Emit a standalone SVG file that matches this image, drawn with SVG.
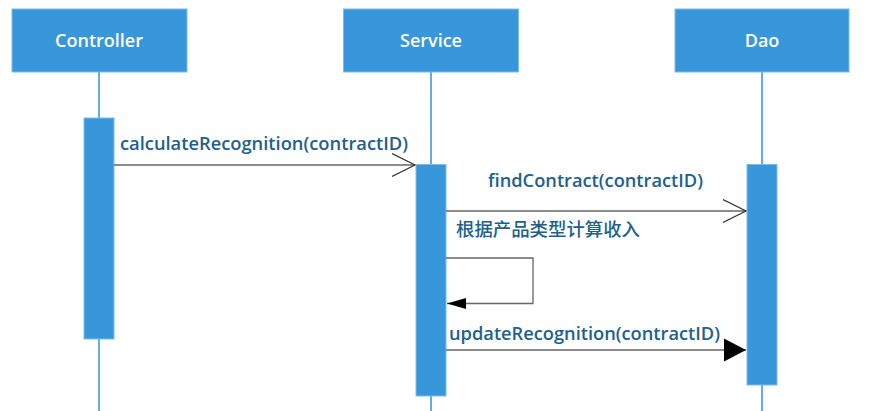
<svg xmlns="http://www.w3.org/2000/svg" width="870" height="411" viewBox="0 0 870 411">
<style>
.box{fill:#3797DA;stroke:#7DBBEA;stroke-width:1}
.bar{fill:#3797DA;stroke:#7DBBEA;stroke-width:1}
.life{stroke:#5FAEE6;stroke-width:2}
.title{font-family:"Open Sans","Liberation Sans",sans-serif;font-size:18px;font-weight:600;fill:#FFFFFF;text-anchor:middle}
.msg{font-family:"Open Sans","Liberation Sans","Noto Sans CJK SC",sans-serif;font-size:18px;font-weight:600;fill:#215F8E}
.cjk{font-family:"Noto Sans CJK SC",sans-serif;font-size:18px;font-weight:500;fill:#215F8E}
.line{stroke:#666666;stroke-width:1.3;fill:none}
</style>
<defs>
<marker id="open" markerWidth="26" markerHeight="26" refX="23" refY="12" orient="auto" markerUnits="userSpaceOnUse">
<path d="M0,0.5 L23,12 L0,23.5" fill="none" stroke="#333333" stroke-width="1.2"/>
</marker>
<marker id="fillbig" markerWidth="24" markerHeight="26" refX="22" refY="12" orient="auto" markerUnits="userSpaceOnUse">
<path d="M0,0.5 L22,12 L0,23.5 Z" fill="#000000"/>
</marker>
<marker id="fillsmall" markerWidth="20" markerHeight="14" refX="19" refY="6" orient="auto" markerUnits="userSpaceOnUse">
<path d="M0,0.5 L19,6 L0,11.5 Z" fill="#000000"/>
</marker>
</defs>

<g id="lifelines">
<line class="life" x1="99" y1="72" x2="99" y2="411"/>
<line class="life" x1="431" y1="72" x2="431" y2="411"/>
<line class="life" x1="762" y1="72" x2="762" y2="411"/>
</g>

<g id="controller">
<rect class="box" x="12" y="9" width="175" height="63"/>
<text class="title" x="99" y="47">Controller</text>
<rect class="bar" x="84" y="118" width="30" height="221"/>
</g>

<g id="service">
<rect class="box" x="343.5" y="9" width="175" height="63"/>
<text class="title" x="431" y="47">Service</text>
<rect class="bar" x="416" y="164.5" width="30" height="231.5"/>
</g>

<g id="dao">
<rect class="box" x="675" y="9" width="174" height="63"/>
<text class="title" x="762" y="47">Dao</text>
<rect class="bar" x="747" y="164.5" width="30" height="220.5"/>
</g>

<g id="connectors">
<line class="line" x1="114" y1="165" x2="415" y2="165" marker-end="url(#open)"/>
<text class="msg" x="120" y="150" textLength="288" lengthAdjust="spacingAndGlyphs">calculateRecognition(contractID)</text>

<line class="line" x1="446" y1="211" x2="746" y2="211" marker-end="url(#open)"/>
<text class="msg" x="488" y="187" textLength="215" lengthAdjust="spacingAndGlyphs">findContract(contractID)</text>

<text class="cjk" x="456" y="236" textLength="184" lengthAdjust="spacingAndGlyphs">根据产品类型计算收入</text>
<polyline class="line" points="446,258 533,258 533,303.5 447,303.5" marker-end="url(#fillsmall)"/>

<line class="line" x1="446" y1="350" x2="746" y2="350" marker-end="url(#fillbig)"/>
<text class="msg" x="449" y="340" textLength="271" lengthAdjust="spacingAndGlyphs">updateRecognition(contractID)</text>
</g>
</svg>
